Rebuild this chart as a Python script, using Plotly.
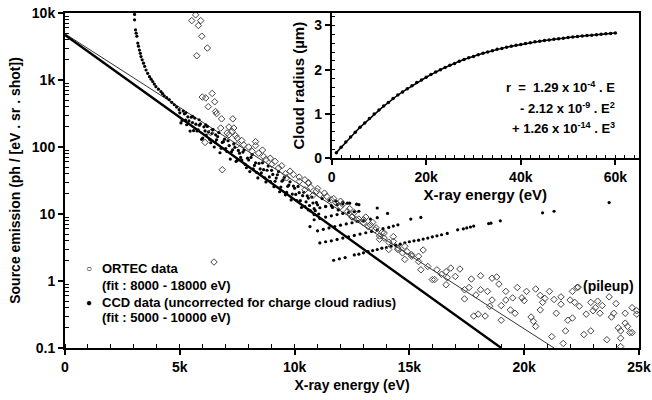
import plotly.graph_objects as go

# ---------------- data ----------------
# ORTEC spectrum (open diamonds): X-ray energy (eV) / source emission
ortec_E_low = [5690, 5520, 5910, 5810, 5960, 6200, 5740,
               5980, 6130, 6410, 6520, 6240, 6560, 6600, 6820, 7310, 7140, 6780, 7350, 7430, 7060, 7280, 7140, 6340, 6100, 6850, 6490]
ortec_S_low = [9400, 7700, 7700, 6500, 4500, 3000, 2300,
               557, 540, 630, 474, 400, 339, 315, 263, 263, 199, 192, 192, 148, 162, 171, 152, 164, 117, 45.8, 1.92]
ortec_E_mid = [7500, 7780, 8000, 8300, 8150, 8430, 8650, 8940, 8750, 9150, 9440, 9300, 9800, 9950, 10200, 10450, 10600, 9650, 8300, 7500, 7700, 9000, 9600, 8600,
               10200, 10600, 10700, 10450, 10950, 11100, 11400, 11600, 11800, 12000, 12300, 12500, 12800, 13000, 13000, 13200, 13500, 13700, 13900, 13800, 14100, 14300, 14500, 14800, 14900, 15100, 15400, 15600,
               12500, 12700, 13300, 13550, 13700, 13900, 14300, 14100, 14500, 14700, 14800, 15100, 15400, 15500, 15800, 16000, 16200, 16400, 16600, 16650,
               11000, 11300, 11700, 12100, 12400, 12000, 12600, 13100, 13400, 10800]
ortec_S_mid = [136, 108, 100, 105, 86, 81, 72, 68, 65, 61, 52.5, 48.6, 43.6, 38.8, 35.6, 32.4, 29.5, 34.6, 120, 108, 125, 55, 40, 90,
               30.6, 28.8, 25, 23, 21.9, 19.4, 18.3, 16.2, 14.8, 12.9, 10.9, 9.0, 8.4, 7.4, 8.2, 6.5, 5.8, 4.7, 4.37, 5.3, 3.8, 3.9, 3.1, 3.3, 2.75, 2.46, 2.34, 2.9,
               9.1, 8.2, 6.9, 6.2, 4.2, 5.2, 4.6, 2.95, 2.95, 2.63, 2.1, 2.34, 1.95, 1.47, 1.65, 1.05, 1.47, 1.26, 1.38, 1.12,
               24, 20.5, 17, 14, 12, 15.5, 10.5, 9, 7.5, 19]
ortec_E_pile = [16100, 16800, 17200, 16600, 17000, 17400, 17400, 17700, 17600, 18100, 18100, 18600, 18800, 18400, 18600, 18500, 17800, 18000, 18300, 19000,
                19000, 19200, 19200, 19500, 19700, 19400, 19600, 19900, 20100, 20000, 20300, 20400, 20500, 20500, 20700, 20800, 20700, 21100, 21200, 21300,
                21400, 21600, 21600, 21700, 21800, 21900, 22000, 22100, 22300, 22100, 22200, 22400, 22600, 22700, 22900, 23000, 23100, 23300, 23400, 22900,
                23600, 23700, 23800, 23900, 24000, 24100, 24200, 24200, 24400, 24500, 24600, 24700, 24700, 24900, 24900, 24400, 24200, 22350, 17900, 18900,
                20900, 23200]
ortec_S_pile = [1.05, 1.56, 1.51, 0.88, 1.17, 0.74, 0.54, 1.07, 0.8, 1.2, 0.74, 1.1, 1.15, 0.7, 0.52, 0.42, 0.30, 0.32, 0.30, 0.43,
                0.26, 0.7, 0.52, 0.56, 0.8, 0.37, 0.33, 0.56, 0.7, 0.51, 0.29, 0.25, 0.21, 0.76, 0.61, 0.48, 0.37, 0.7, 0.148, 0.53,
                0.33, 0.45, 0.58, 0.117, 0.18, 0.26, 0.52, 0.7, 0.8, 0.28, 0.48, 0.42, 0.159, 0.32, 0.48, 0.36, 0.4, 0.33, 0.43, 0.18,
                0.133, 0.58, 0.29, 0.33, 0.46, 0.20, 0.18, 0.14, 0.235, 0.21, 0.17, 0.17, 0.4, 0.32, 0.36, 0.33, 0.105, 0.81, 0.62, 0.9,
                0.55, 0.5]

# CCD spectrum (filled dots), uncorrected for charge cloud radius
ccd_E_rise = [3030, 3030, 3070, 3130, 3170, 3240, 3310, 3420, 3530, 3680, 3820, 3960, 4180, 4320, 4540, 4760, 4970, 5260, 5550, 5840, 6130, 6410, 6560,
              3100, 3200, 3280, 3360, 3470, 3600, 3750, 3890, 4070, 4250, 4430, 4650, 4860]
ccd_S_rise = [9500, 7900, 5600, 4500, 3560, 2800, 2240, 1780, 1410, 1120, 950, 795, 670, 582, 508, 427, 361, 323, 287, 255, 214, 181, 152,
              5000, 3200, 2500, 2000, 1600, 1260, 1030, 870, 730, 625, 545, 465, 395]
ccd_E_band1 = [5000, 5100, 5200, 5300, 5400, 5500, 5600, 5700, 5800, 5900, 6000, 6100, 6200, 6300, 6400, 6500, 6600, 6700, 6800, 6900,
               7000, 7100, 7200, 7300, 7400, 7500, 7600, 7700, 7800, 7900, 8000, 8100, 8200, 8300, 8400, 8500, 8600, 8700, 8800, 8900,
               9000, 9100, 9200, 9300, 9400, 9500, 9600, 9700, 9800, 9900, 10000, 10100, 10200, 10300, 10400, 10500, 10600, 10700, 10800, 10900, 11000]
ccd_S_band1 = [324, 249, 313, 215, 245, 279, 175, 219, 181, 222, 136, 174, 203, 130, 159, 100, 128, 164, 96, 120,
               95, 124, 66, 91, 99, 63, 81, 64, 90, 49, 64, 70, 47, 58, 34.5, 47, 58, 34.7, 45, 35.8,
               44.9, 25.6, 34.4, 43, 25.2, 32.2, 19.3, 25.9, 30.2, 19.8, 24.3, 15.9, 20.8, 12.5, 21.1, 15.2, 17.3, 11.1, 14.6, 11.2, 13.7]
ccd_E_band2 = [5050, 5150, 5250, 5350, 5450, 5550, 5650, 5750, 5850, 5950, 6050, 6150, 6250, 6350, 6450, 6550, 6650, 6750, 6850, 6950,
               7050, 7150, 7250, 7350, 7450, 7550, 7650, 7750, 7850, 7950, 8050, 8150, 8250, 8350, 8450, 8550, 8650, 8750, 8850, 8950,
               9050, 9150, 9250, 9350, 9450, 9550, 9650, 9750, 9850, 9950, 10050, 10150, 10250, 10350, 10450, 10550, 10650, 10750, 10850, 10950]
ccd_S_band2 = [229, 344, 253, 282, 173, 232, 270, 174, 212, 130, 200, 151, 168, 116, 182, 117, 143, 82, 117, 131,
               86, 105, 85, 111, 61, 89, 70, 84, 55, 68, 43, 77, 53, 41.6, 57, 41, 45.8, 30.1, 52, 30.4,
               38.9, 30.8, 38.5, 21.5, 30.9, 35.2, 21.1, 27, 16.2, 26.1, 19.6, 25.8, 15.8, 18.8, 12.9, 18.6, 13.4, 17.9, 9.8, 14.8]
ccd_E_streaks = [11700, 11950, 12200, 12600, 12800, 13000, 13200, 13400, 13600, 13800, 14000, 14200, 14400, 14600, 14800, 15000, 15200, 15400,
                 15600, 15800, 16000, 16200, 16400, 16650, 17100, 17350, 17500, 17660, 17800, 18450, 18550, 18960, 20800, 21300, 23700,
                 11100, 11350, 11600, 11850, 12100, 12350, 12600, 12850, 13100, 13350, 13600, 13850, 14100, 14300, 14500, 15060, 15500,
                 11000, 11250, 11500, 11750, 12000, 12250, 12500, 12750, 13000, 13300, 13600, 10670,
                 10850, 11100, 11350, 11600, 11850, 12100, 12350, 12600, 12800, 14050, 13600,
                 10600, 10850, 11100, 11350, 11600, 11850, 12100, 12300, 12800,
                 11200, 11500, 11800, 12100, 12400, 12700, 11350, 11650, 11050, 11900]
ccd_S_streaks = [2.04, 2.14, 2.24, 2.45, 2.51, 2.63, 2.75, 2.85, 2.95, 3.09, 3.16, 3.31, 3.43, 3.55, 3.72, 3.85, 3.98, 4.07,
                 4.22, 4.37, 4.57, 4.73, 4.9, 5.13, 5.8, 6.0, 6.2, 6.4, 6.6, 7.2, 7.3, 7.9, 10.4, 11, 14.8,
                 3.7, 3.85, 3.98, 4.17, 4.37, 4.57, 4.79, 5.01, 5.25, 5.5, 5.75, 6.03, 6.31, 6.6, 6.9, 8.4, 8.9,
                 5.6, 5.9, 6.2, 6.5, 6.8, 7.1, 7.4, 7.8, 8.0, 8.4, 8.8, 6.5,
                 8.2, 8.6, 9.0, 9.4, 9.8, 10.2, 10.5, 10.8, 11.0, 10.2, 12.3,
                 11.5, 12.0, 12.4, 12.9, 13.3, 13.8, 14.2, 14.5, 13.8,
                 17, 16, 15.5, 15, 14.5, 14, 13, 12.5, 10, 11.5]

# exponential fits (end points)
ortec_fit_E = [0, 21300]
ortec_fit_S = [4900, 0.1]
ccd_fit_E = [0, 19000]
ccd_fit_S = [4700, 0.1]

# inset: charge cloud radius (um) vs X-ray energy (eV)
cloud_E = [1000, 2000, 3000, 4000, 5000, 6000, 7000, 8000, 9000, 10000, 11000, 12000, 13000, 14000, 15000, 16000, 17000, 18000, 19000, 20000,
           21000, 22000, 23000, 24000, 25000, 26000, 27000, 28000, 29000, 30000, 31000, 32000, 33000, 34000, 35000, 36000, 37000, 38000, 39000, 40000,
           41000, 42000, 43000, 44000, 45000, 46000, 47000, 48000, 49000, 50000, 51000, 52000, 53000, 54000, 55000, 56000, 57000, 58000, 59000, 60000]
cloud_r = [0.13, 0.25, 0.37, 0.48, 0.59, 0.70, 0.80, 0.90, 1.00, 1.09, 1.18, 1.26, 1.35, 1.43, 1.50, 1.57, 1.64, 1.71, 1.77, 1.83,
           1.89, 1.95, 2.00, 2.05, 2.10, 2.14, 2.19, 2.23, 2.27, 2.30, 2.34, 2.37, 2.40, 2.43, 2.46, 2.48, 2.51, 2.53, 2.55, 2.57,
           2.59, 2.61, 2.63, 2.64, 2.66, 2.67, 2.69, 2.70, 2.71, 2.73, 2.74, 2.75, 2.76, 2.77, 2.78, 2.79, 2.80, 2.81, 2.82, 2.83]

# ticks
x_tick_vals = [0, 5000, 10000, 15000, 20000, 25000]
x_tick_text = ["0", "5k", "10k", "15k", "20k", "25k"]
y_tick_vals = [0.1, 1, 10, 100, 1000, 10000]
y_tick_text = ["0.1", "1", "10", "100", "1k", "10k"]
y_minor_vals = [m * d for d in (0.1, 1, 10, 100, 1000) for m in (2, 3, 4, 5, 6, 7, 8, 9)]
x2_tick_vals = [0, 20000, 40000, 60000]
x2_tick_text = ["0", "20k", "40k", "60k"]

# ---------------- figure ----------------
ortec_E = ortec_E_low + ortec_E_mid + ortec_E_pile
ortec_S = ortec_S_low + ortec_S_mid + ortec_S_pile
ccd_E = ccd_E_rise + ccd_E_band1 + ccd_E_band2 + ccd_E_streaks
ccd_S = ccd_S_rise + ccd_S_band1 + ccd_S_band2 + ccd_S_streaks

fig = go.Figure()
fig.add_trace(go.Scatter(x=ortec_fit_E, y=ortec_fit_S, mode="lines", name="ORTEC fit",
                         line=dict(color="#333333", width=1), hoverinfo="skip"))
fig.add_trace(go.Scatter(x=ccd_fit_E, y=ccd_fit_S, mode="lines", name="CCD fit",
                         line=dict(color="black", width=2.4), hoverinfo="skip"))
fig.add_trace(go.Scatter(x=ccd_E, y=ccd_S, mode="markers", name="CCD data",
                         marker=dict(symbol="circle", size=3.2, color="black")))
fig.add_trace(go.Scatter(x=ortec_E, y=ortec_S, mode="markers", name="ORTEC data",
                         marker=dict(symbol="diamond-open", size=5, color="#444444", line=dict(width=1))))
fig.add_trace(go.Scatter(x=cloud_E, y=cloud_r, xaxis="x2", yaxis="y2", mode="lines+markers", name="Cloud radius",
                         line=dict(color="black", width=1.5), marker=dict(size=3.5, color="black")))

axis_common = dict(showgrid=False, zeroline=False, showline=True, linecolor="black",
                   ticks="outside", tickcolor="black", automargin=False, ticklabeloverflow="allow")

fig.update_layout(
    width=652, height=400,
    margin=dict(l=65, r=13, t=13, b=52),
    paper_bgcolor="white", plot_bgcolor="white",
    showlegend=False,
    font=dict(family="Liberation Sans, Arial, sans-serif", size=14, color="black", weight="bold"),
    xaxis=dict(**axis_common, domain=[0, 1], range=[0, 25000], linewidth=2, mirror=True,
               tickmode="array", tickvals=x_tick_vals, ticktext=x_tick_text, ticklen=5, tickwidth=1.5,
               minor=dict(dtick=1000, ticks="inside", ticklen=4, tickwidth=1, tickcolor="black"),
               title=dict(text="X-ray energy (eV)", standoff=6, font=dict(size=14))),
    yaxis=dict(**axis_common, domain=[0, 1], type="log", range=[-1, 4], linewidth=2, mirror=True,
               tickmode="array", tickvals=y_tick_vals, ticktext=y_tick_text, ticklen=5, tickwidth=1.5,
               minor=dict(tickmode="array", tickvals=y_minor_vals, ticks="inside", ticklen=4, tickwidth=1, tickcolor="black"),
               title=dict(text="Source emission (ph / [eV . sr . shot])", standoff=8, font=dict(size=14))),
    xaxis2=dict(**axis_common, domain=[0.4645, 1], anchor="y2", range=[0, 65000], linewidth=1.5,
                tickmode="array", tickvals=x2_tick_vals, ticktext=x2_tick_text, ticklen=5, tickwidth=1.5,
                minor=dict(dtick=2000, ticks="inside", ticklen=4, tickwidth=1, tickcolor="black"),
                title=dict(text="X-ray energy (eV)", standoff=6, font=dict(size=15))),
    yaxis2=dict(**axis_common, domain=[0.566, 1], anchor="x2", range=[0, 3.28], linewidth=1.5,
                tickmode="array", tickvals=[0, 1, 2, 3], ticklen=5, tickwidth=1.5,
                minor=dict(dtick=0.2, ticks="inside", ticklen=4, tickwidth=1, tickcolor="black"),
                title=dict(text="Cloud radius (µm)", standoff=6, font=dict(size=15))),
)

# legend drawn as text next to symbol glyphs
legend_font = dict(size=13)
ann = [
    dict(x=0.0416, y=0.236, text="○", xanchor="center", font=dict(size=10)),
    dict(x=0.0607, y=0.236, text="ORTEC data", xanchor="left", font=legend_font),
    dict(x=0.0607, y=0.186, text="(fit : 8000 - 18000 eV)", xanchor="left", font=legend_font),
    dict(x=0.0416, y=0.137, text="●", xanchor="center", font=dict(size=10)),
    dict(x=0.0607, y=0.137, text="CCD data (uncorrected for charge cloud radius)", xanchor="left", font=legend_font),
    dict(x=0.0607, y=0.090, text="(fit : 5000 - 10000 eV)", xanchor="left", font=legend_font),
    dict(x=0.946, y=0.186, text="(pileup)", xanchor="center", font=dict(size=14)),
    dict(x=0.962, y=0.780, text="r\u00a0\u00a0=\u00a0\u00a01.29 x 10<sup>-4</sup> . E", xanchor="right", font=legend_font),
    dict(x=0.962, y=0.7155, text="- 2.12 x 10<sup>-9</sup> . E<sup>2</sup>", xanchor="right", font=legend_font),
    dict(x=0.962, y=0.656, text="+ 1.26 x 10<sup>-14</sup> . E<sup>3</sup>", xanchor="right", font=legend_font),
]
for a in ann:
    fig.add_annotation(xref="paper", yref="paper", showarrow=False, yanchor="middle", **a)

fig.write_html("out.html")
